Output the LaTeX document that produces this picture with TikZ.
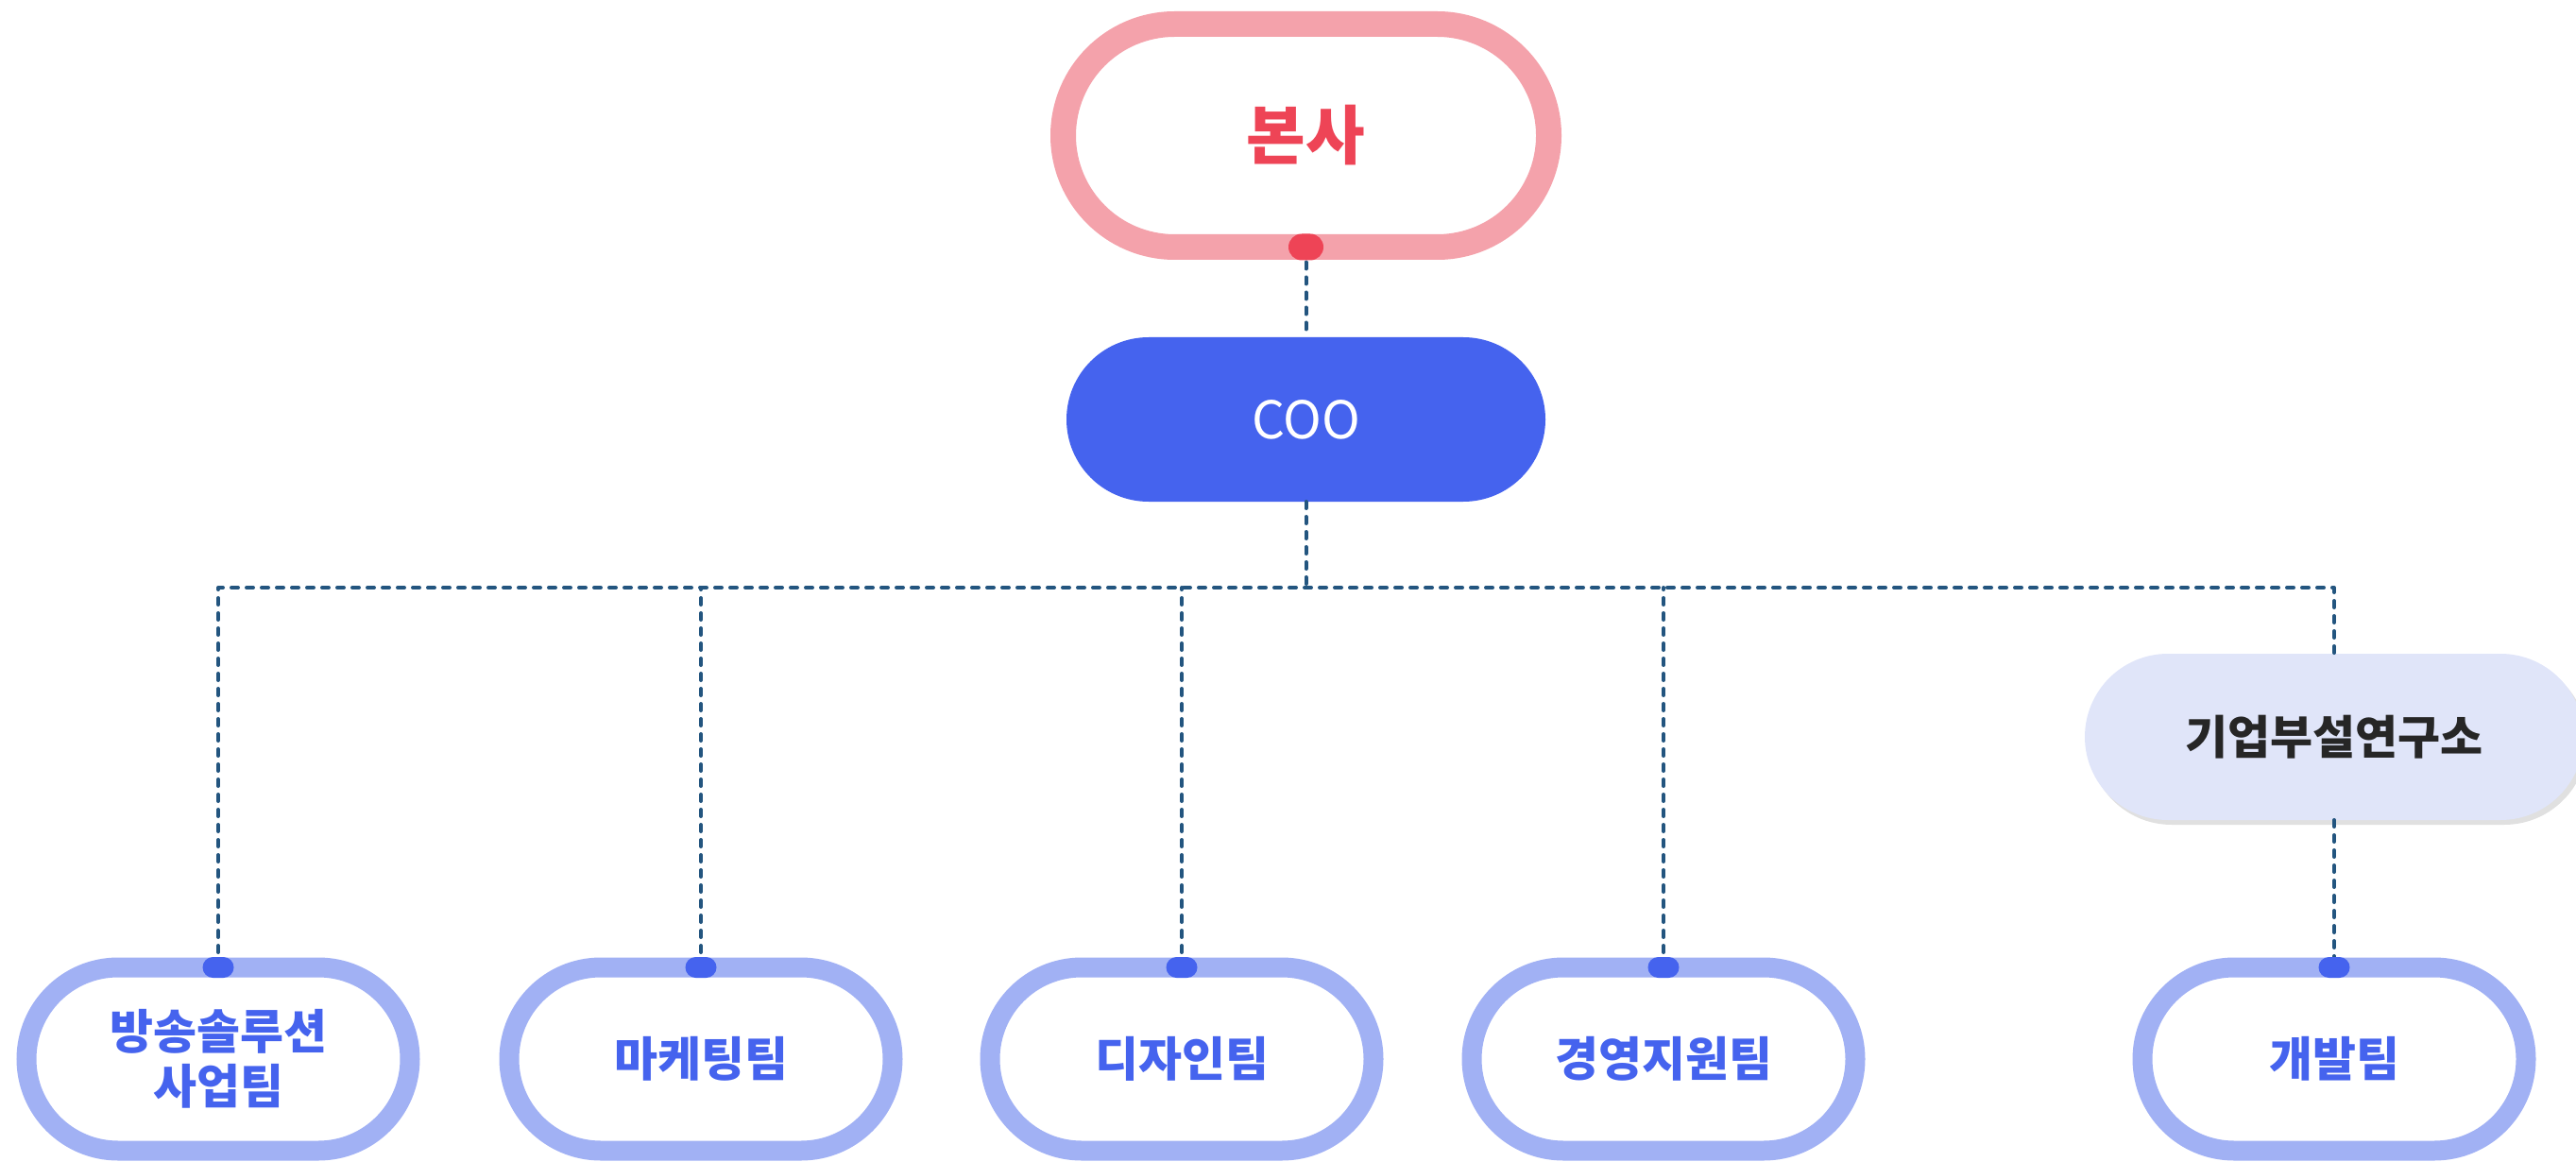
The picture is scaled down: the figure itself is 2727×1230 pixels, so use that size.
\documentclass[tikz,border=0pt]{standalone}
\usepackage{fontspec}
\setmainfont{Noto Sans CJK KR}
\usetikzlibrary{shadows}
\definecolor{pinkline}{HTML}{F4A2AB}
\definecolor{hqred}{HTML}{EE4456}
\definecolor{cooblue}{HTML}{4563EE}
\definecolor{teamline}{HTML}{A1B1F4}
\definecolor{labfill}{HTML}{E0E5F9}
\definecolor{labtext}{HTML}{262626}
\definecolor{linecol}{HTML}{23557F}
\begin{document}
\begin{tikzpicture}[x=1pt,y=-1pt,
  pill/.style={rectangle, inner sep=0pt, outer sep=0pt, align=center},
  hq/.style={pill, draw=pinkline, line width=27pt, fill=white, minimum width=514pt, minimum height=236pt, rounded corners=118pt, text=hqred, font=\fontsize{68}{80}\selectfont\bfseries},
  coo/.style={pill, fill=cooblue, minimum width=507pt, minimum height=174pt, rounded corners=87pt, text=white, font=\fontsize{55}{64}\selectfont},
  team/.style={pill, draw=teamline, line width=21pt, fill=white, minimum width=406pt, minimum height=194pt, rounded corners=97pt, text=cooblue, font=\fontsize{50}{58}\selectfont\bfseries},
  lab/.style={pill, fill=labfill, minimum width=528pt, minimum height=176pt, rounded corners=88pt, text=labtext, font=\fontsize{49}{58}\selectfont\bfseries,
     drop shadow={shadow xshift=4pt, shadow yshift=-5pt, fill=black!35, opacity=0.35}},
  conn/.style={draw=linecol, line width=4pt, dash pattern=on 7pt off 9pt, line cap=round, line join=round},
  dotblue/.style={rectangle, inner sep=0pt, outer sep=0pt, minimum width=33pt, minimum height=22pt, rounded corners=11pt, fill=cooblue},
  dotred/.style={rectangle, inner sep=0pt, outer sep=0pt, minimum width=37pt, minimum height=28pt, rounded corners=14pt, fill=hqred},
]
\useasboundingbox (0,0) rectangle (2727,1230);
\clip (0,0) rectangle (2727,1230);

\node[hq] (hq) at (1382.5,143.5) {본사};
\node[coo] (coo) at (1382.5,444) {COO};
\node[lab] (lab) at (2471,780) {기업부설연구소};
\node[team] (t1) at (231,1121) {방송솔루션\\사업팀};
\node[team] (t2) at (742,1121) {마케팅팀};
\node[team] (t3) at (1251,1121) {디자인팀};
\node[team] (t4) at (1761,1121) {경영지원팀};
\node[team] (t5) at (2471,1121) {개발팀};

\coordinate (j) at (1382.5,622);

\draw[conn] (hq.south) -- (coo.north);
\draw[conn] (coo.south) -- (j);
\draw[conn] (t1.north) |- (j) -| (lab.north);
\draw[conn] (t2.north) -- (t2.north |- j);
\draw[conn] (t3.north) -- (t3.north |- j);
\draw[conn] (t4.north) -- (t4.north |- j);
\draw[conn] (lab.south) -- (t5.north);

\node[dotred] (hqdot) at (hq.south) {};
\node[dotblue] (d1) at (t1.north) {};
\node[dotblue] (d2) at (t2.north) {};
\node[dotblue] (d3) at (t3.north) {};
\node[dotblue] (d4) at (t4.north) {};
\node[dotblue] (d5) at (t5.north) {};
\end{tikzpicture}
\end{document}
